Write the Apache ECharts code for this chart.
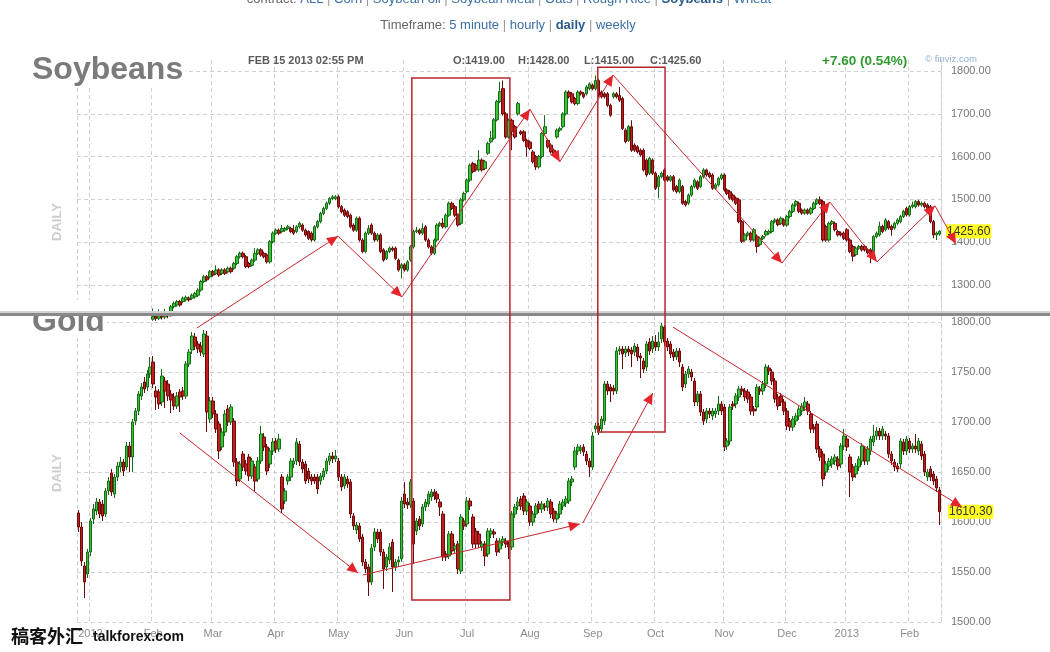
<!DOCTYPE html>
<html>
<head>
<meta charset="utf-8">
<title>Soybeans / Gold daily</title>
<script src="https://cdn.jsdelivr.net/npm/echarts@6/dist/echarts.min.js"></script>
<style>
  html, body { margin: 0; padding: 0; background: #fff; }
  #main { width: 1050px; height: 652px; }
</style>
</head>
<body>
<div id="main"></div>
<script>
// trading days per month, from the tail of Dec 2011 to mid Feb 2013
const monthNames = ['', '2012', 'Feb', 'Mar', 'Apr', 'May', 'Jun', 'Jul', 'Aug', 'Sep', 'Oct', 'Nov', 'Dec', '2013', 'Feb'];
const monthDays = [4, 21, 20, 21, 21, 22, 21, 21, 21, 21, 23, 21, 20, 21, 11];

// daily candles [open, close, low, high]
const soyCandles = [
  // Dec
  [1165,1160,1150,1172],[1160,1170,1155,1176],[1172,1168,1160,1180],[1190,1222,1186,1241],
  // Jan
  [1220,1215,1205,1228],[1215,1205,1198,1222],[1205,1198,1190,1210],[1200,1210,1195,1225],[1212,1218,1205,1236],
  [1218,1200,1195,1222],[1200,1180,1175,1205],[1182,1178,1170,1190],[1178,1190,1172,1195],[1190,1195,1185,1202],
  [1195,1192,1185,1200],[1192,1200,1188,1206],[1200,1205,1195,1212],[1205,1198,1192,1210],[1198,1205,1194,1212],
  [1205,1210,1200,1216],[1210,1206,1200,1218],[1206,1212,1202,1220],[1212,1208,1202,1218],[1208,1215,1204,1222],
  [1215,1220,1210,1226],
  // Feb
  [1220,1226,1216,1245],[1226,1222,1216,1232],[1222,1228,1218,1243],[1228,1225,1219,1235],[1225,1230,1220,1244],
  [1230,1228,1222,1238],[1228,1249,1226,1253],[1249,1257,1245,1261],[1253,1261,1249,1265],[1261,1253,1249,1265],
  [1261,1269,1257,1273],[1265,1271,1261,1275],[1269,1265,1261,1273],[1269,1276,1265,1280],[1272,1280,1268,1284],
  [1276,1288,1272,1292],[1288,1308,1284,1312],[1308,1319,1304,1323],[1319,1312,1308,1323],[1319,1331,1315,1335],
  // Mar
  [1331,1323,1319,1335],[1327,1335,1323,1346],[1335,1323,1319,1339],[1327,1335,1323,1339],[1335,1327,1323,1339],
  [1331,1339,1327,1343],[1339,1331,1327,1343],[1339,1350,1335,1354],[1350,1366,1346,1370],[1366,1374,1362,1378],
  [1374,1366,1362,1378],[1366,1343,1339,1370],[1350,1343,1339,1354],[1346,1358,1343,1362],[1358,1374,1354,1386],
  [1374,1382,1370,1386],[1382,1370,1366,1386],[1374,1366,1362,1378],[1370,1354,1350,1374],[1354,1401,1350,1405],
  [1401,1421,1397,1425],
  // Apr
  [1421,1428,1417,1432],[1428,1421,1417,1432],[1425,1432,1421,1440],[1428,1432,1424,1436],[1432,1436,1428,1440],
  [1432,1425,1421,1436],[1428,1421,1417,1440],[1425,1436,1421,1440],[1436,1444,1432,1448],[1440,1428,1424,1444],
  [1428,1417,1413,1432],[1425,1409,1405,1428],[1421,1405,1401,1425],[1405,1436,1401,1440],[1436,1448,1432,1452],
  [1448,1467,1444,1471],[1467,1479,1463,1483],[1479,1491,1475,1495],[1491,1502,1487,1506],[1502,1506,1498,1510],
  [1502,1506,1498,1510],
  // May
  [1506,1483,1479,1511],[1483,1471,1467,1487],[1475,1463,1459,1479],[1471,1460,1456,1475],[1463,1436,1432,1467],
  [1440,1428,1424,1444],[1428,1456,1424,1460],[1456,1405,1401,1460],[1405,1378,1374,1409],[1378,1421,1374,1425],
  [1421,1432,1417,1440],[1440,1421,1417,1444],[1421,1405,1401,1425],[1405,1417,1401,1421],[1417,1378,1374,1421],
  [1382,1358,1354,1386],[1362,1378,1358,1382],[1378,1386,1374,1390],[1386,1382,1378,1390],[1386,1362,1358,1390],
  [1358,1335,1331,1362],[1339,1347,1315,1351],
  // Jun
  [1347,1335,1331,1351],[1335,1354,1331,1358],[1358,1389,1354,1393],[1389,1425,1385,1429],[1425,1428,1421,1436],
  [1428,1421,1417,1432],[1421,1432,1417,1444],[1436,1405,1401,1440],[1405,1389,1385,1409],[1389,1374,1370,1393],
  [1374,1405,1370,1409],[1405,1440,1401,1444],[1440,1444,1436,1448],[1444,1436,1432,1456],[1436,1463,1432,1467],
  [1463,1491,1459,1495],[1491,1479,1475,1495],[1483,1463,1459,1487],[1463,1440,1436,1467],[1444,1499,1440,1503],
  [1499,1514,1495,1518],
  // Jul
  [1518,1545,1514,1549],[1545,1580,1541,1584],[1584,1565,1561,1588],[1580,1569,1565,1584],[1569,1592,1565,1615],
  [1592,1569,1565,1596],[1572,1588,1568,1592],[1608,1631,1604,1635],[1635,1643,1631,1660],[1643,1686,1639,1690],
  [1686,1729,1682,1733],[1729,1752,1725,1775],[1759,1700,1696,1778],[1700,1646,1642,1704],[1646,1685,1642,1689],
  [1685,1658,1615,1689],[1670,1646,1642,1674],[1700,1724,1696,1728],[1658,1654,1650,1662],[1658,1638,1634,1662],
  [1638,1623,1600,1642],
  // Aug
  [1634,1619,1615,1638],[1611,1588,1584,1615],[1600,1576,1569,1604],[1576,1600,1572,1604],[1600,1654,1596,1658],
  [1654,1670,1650,1697],[1638,1623,1619,1642],[1627,1611,1607,1631],[1615,1607,1603,1619],[1646,1662,1642,1666],
  [1662,1666,1658,1670],[1670,1700,1666,1704],[1700,1751,1696,1755],[1751,1740,1736,1755],[1747,1728,1724,1751],
  [1736,1724,1720,1740],[1724,1751,1720,1755],[1751,1747,1743,1755],[1747,1740,1736,1751],[1747,1763,1743,1767],
  [1759,1770,1755,1774],
  // Sep
  [1767,1759,1755,1771],[1759,1778,1755,1790],[1778,1743,1739,1782],[1751,1740,1736,1755],[1747,1740,1736,1751],
  [1747,1720,1716,1751],[1720,1697,1693,1724],[1740,1747,1736,1751],[1747,1740,1736,1751],[1743,1732,1728,1763],
  [1736,1666,1662,1740],[1662,1635,1631,1666],[1638,1670,1634,1674],[1670,1615,1611,1685],[1627,1615,1611,1631],
  [1623,1611,1607,1627],[1615,1604,1600,1619],[1615,1569,1565,1619],[1592,1557,1553,1596],[1561,1596,1557,1600],
  [1592,1561,1557,1596],
  // Oct
  [1561,1526,1522,1565],[1530,1553,1503,1557],[1553,1561,1549,1565],[1569,1545,1541,1573],[1553,1545,1541,1557],
  [1545,1553,1541,1557],[1553,1522,1518,1557],[1530,1518,1514,1534],[1518,1545,1514,1549],[1530,1491,1487,1534],
  [1495,1487,1483,1499],[1491,1510,1487,1514],[1510,1530,1506,1534],[1530,1545,1526,1549],[1541,1526,1522,1545],
  [1530,1553,1526,1557],[1553,1569,1549,1573],[1569,1557,1553,1572],[1561,1553,1549,1565],[1557,1526,1522,1561],
  [1526,1534,1522,1538],[1534,1549,1530,1553],[1549,1557,1545,1561],
  // Nov
  [1557,1522,1518,1561],[1522,1514,1510,1526],[1518,1503,1499,1522],[1510,1499,1495,1514],[1503,1491,1487,1507],
  [1499,1448,1444,1503],[1448,1402,1398,1452],[1405,1417,1401,1421],[1417,1421,1413,1425],[1421,1405,1401,1425],
  [1405,1429,1401,1433],[1413,1390,1375,1417],[1394,1409,1390,1413],[1409,1413,1405,1417],[1417,1425,1413,1429],
  [1421,1425,1417,1429],[1425,1448,1421,1452],[1448,1452,1444,1456],[1452,1441,1437,1456],[1444,1456,1440,1460],
  [1452,1440,1436,1456],
  // Dec
  [1440,1460,1436,1464],[1460,1472,1456,1476],[1472,1487,1468,1491],[1487,1495,1483,1499],[1491,1472,1468,1495],
  [1475,1468,1464,1479],[1468,1475,1464,1479],[1475,1468,1464,1479],[1468,1479,1464,1483],[1479,1491,1475,1495],
  [1491,1499,1487,1503],[1499,1491,1487,1507],[1495,1405,1401,1499],[1437,1405,1401,1441],[1405,1444,1401,1448],
  [1444,1448,1440,1452],[1444,1429,1425,1448],[1425,1417,1413,1429],[1421,1417,1413,1425],[1421,1409,1405,1425],
  // Jan 2013
  [1429,1405,1401,1433],[1405,1378,1374,1409],[1390,1367,1355,1394],[1371,1386,1367,1390],[1386,1390,1382,1394],
  [1390,1382,1378,1394],[1390,1382,1378,1394],[1382,1375,1371,1386],[1382,1371,1351,1386],[1378,1413,1374,1417],
  [1413,1421,1409,1425],[1417,1437,1413,1448],[1437,1425,1421,1441],[1429,1452,1425,1456],[1448,1433,1429,1452],
  [1437,1429,1415,1441],[1433,1444,1429,1448],[1444,1452,1440,1456],[1448,1460,1444,1464],[1460,1472,1456,1476],
  [1479,1464,1460,1483],
  // Feb 2013
  [1464,1483,1460,1487],[1483,1487,1479,1495],[1483,1495,1479,1499],[1495,1487,1483,1499],[1487,1491,1483,1495],
  [1491,1483,1479,1495],[1487,1479,1475,1491],[1483,1448,1444,1487],[1448,1417,1409,1452],[1417,1421,1405,1425],
  [1419,1425.6,1415,1428]
];

const goldCandles = [
  // Dec
  [1609,1595,1590,1612],[1595,1561,1556,1600],[1556,1540,1524,1560],[1548,1570,1544,1573],
  // Jan
  [1570,1601,1566,1604],[1603,1613,1598,1618],[1611,1620,1607,1624],[1620,1608,1604,1623],[1618,1606,1601,1622],
  [1608,1631,1605,1634],[1631,1641,1627,1645],[1649,1630,1626,1653],[1628,1645,1624,1648],[1645,1656,1641,1660],
  [1655,1660,1650,1665],[1660,1651,1646,1663],[1655,1676,1652,1680],[1676,1665,1650,1680],[1665,1700,1650,1703],
  [1701,1711,1697,1714],[1711,1728,1707,1731],[1726,1735,1722,1739],[1740,1733,1729,1745],[1735,1748,1731,1752],
  [1748,1755,1744,1765],
  // Feb
  [1760,1738,1734,1766],[1731,1725,1712,1736],[1730,1718,1713,1733],[1720,1746,1716,1753],[1741,1731,1714,1745],
  [1738,1726,1721,1742],[1728,1722,1709,1732],[1725,1716,1712,1729],[1716,1726,1713,1730],[1730,1725,1710,1733],
  [1731,1726,1722,1735],[1726,1758,1723,1761],[1758,1770,1755,1773],[1772,1786,1768,1790],[1785,1776,1772,1789],
  [1778,1773,1769,1781],[1776,1770,1766,1780],[1768,1788,1765,1792],[1786,1710,1690,1791],[1703,1721,1699,1725],
  // Mar
  [1721,1708,1704,1725],[1708,1693,1689,1712],[1698,1671,1663,1701],[1675,1690,1672,1694],[1690,1708,1686,1712],
  [1713,1700,1696,1717],[1700,1715,1697,1718],[1701,1660,1655,1704],[1660,1641,1636,1664],[1643,1658,1640,1661],
  [1668,1655,1651,1671],[1658,1651,1647,1662],[1665,1646,1641,1668],[1646,1661,1643,1664],[1655,1641,1630,1658],
  [1643,1661,1640,1665],[1661,1688,1658,1696],[1685,1675,1671,1689],[1675,1651,1647,1678],[1658,1671,1654,1674],
  [1671,1680,1667,1684],
  // Apr
  [1681,1673,1669,1684],[1673,1683,1670,1688],[1645,1613,1609,1648],[1621,1631,1618,1634],[1641,1645,1637,1648],
  [1645,1661,1641,1664],[1658,1661,1654,1664],[1661,1680,1657,1684],[1678,1660,1656,1681],[1660,1653,1649,1663],
  [1658,1641,1638,1661],[1651,1643,1639,1654],[1645,1641,1637,1648],[1645,1641,1638,1648],[1645,1633,1628,1648],
  [1641,1646,1637,1649],[1645,1651,1642,1654],[1651,1661,1648,1664],[1661,1666,1657,1669],[1666,1663,1659,1670],
  [1663,1666,1660,1672],
  // May
  [1661,1645,1641,1664],[1645,1635,1631,1648],[1636,1645,1633,1648],[1643,1638,1634,1646],[1640,1608,1604,1643],
  [1606,1596,1592,1609],[1592,1597,1588,1600],[1596,1583,1580,1599],[1585,1560,1556,1588],[1560,1553,1549,1563],
  [1555,1540,1526,1558],[1540,1574,1537,1578],[1575,1590,1571,1594],[1590,1583,1579,1593],[1590,1570,1566,1593],
  [1570,1553,1533,1573],[1555,1565,1551,1568],[1562,1575,1558,1579],[1580,1555,1530,1583],[1555,1560,1551,1563],
  [1560,1562,1556,1566],[1563,1621,1560,1625],
  // Jun
  [1628,1618,1614,1640],[1620,1617,1613,1624],[1617,1640,1614,1643],[1621,1578,1558,1624],[1591,1601,1587,1604],
  [1603,1596,1592,1606],[1598,1615,1595,1618],[1615,1620,1611,1623],[1618,1628,1615,1631],[1625,1630,1621,1633],
  [1630,1626,1622,1633],[1628,1623,1619,1631],[1620,1615,1606,1623],[1608,1565,1561,1611],[1568,1565,1561,1571],
  [1566,1588,1563,1591],[1588,1571,1567,1591],[1573,1576,1569,1579],[1578,1553,1548,1581],[1551,1605,1548,1608],
  [1601,1596,1592,1604],
  // Jul
  [1598,1621,1595,1625],[1621,1616,1612,1624],[1605,1578,1574,1608],[1591,1578,1574,1594],[1588,1578,1574,1591],
  [1575,1578,1571,1581],[1578,1566,1556,1581],[1568,1591,1565,1594],[1588,1591,1584,1594],[1590,1588,1584,1593],
  [1581,1570,1566,1584],[1573,1581,1569,1584],[1580,1583,1576,1586],[1581,1578,1574,1584],[1578,1575,1563,1581],
  [1575,1608,1572,1611],[1608,1615,1604,1618],[1616,1620,1612,1625],[1623,1616,1612,1626],[1626,1611,1607,1629],
  [1611,1620,1607,1623],
  // Aug
  [1616,1600,1596,1619],[1600,1608,1596,1611],[1608,1616,1604,1619],[1618,1613,1609,1621],[1613,1618,1609,1621],
  [1616,1615,1611,1619],[1615,1621,1611,1624],[1620,1608,1604,1623],[1611,1603,1600,1614],[1603,1608,1599,1611],
  [1608,1618,1604,1621],[1616,1620,1612,1623],[1619,1623,1615,1626],[1621,1641,1618,1644],[1640,1643,1636,1646],
  [1655,1671,1652,1675],[1671,1675,1667,1678],[1672,1674,1668,1677],[1675,1670,1666,1678],[1668,1661,1657,1671],
  [1661,1655,1645,1664],
  // Sep
  [1655,1686,1652,1690],[1693,1696,1689,1699],[1696,1691,1687,1699],[1693,1703,1689,1706],[1701,1738,1697,1741],
  [1738,1731,1727,1741],[1735,1731,1720,1738],[1734,1731,1727,1737],[1731,1771,1728,1775],[1771,1773,1767,1776],
  [1773,1768,1753,1776],[1769,1773,1765,1776],[1773,1770,1766,1776],[1772,1768,1755,1775],[1770,1776,1766,1779],
  [1775,1765,1761,1778],[1766,1764,1744,1769],[1761,1753,1749,1764],[1755,1778,1751,1781],[1780,1771,1767,1784],
  [1773,1781,1769,1786],
  // Oct
  [1780,1775,1771,1787],[1775,1780,1771,1790],[1783,1796,1779,1799],[1795,1780,1776,1797],[1781,1775,1771,1784],
  [1778,1768,1764,1781],[1770,1765,1761,1773],[1765,1771,1762,1774],[1771,1760,1755,1774],[1755,1735,1731,1758],
  [1738,1748,1734,1751],[1748,1753,1744,1756],[1750,1745,1741,1753],[1741,1720,1716,1744],[1720,1728,1716,1731],
  [1728,1710,1706,1731],[1710,1701,1697,1713],[1703,1711,1699,1714],[1711,1708,1704,1714],[1706,1711,1702,1714],
  [1708,1711,1704,1714],[1711,1718,1707,1726],[1718,1711,1707,1721],
  // Nov
  [1715,1675,1671,1718],[1676,1681,1672,1684],[1681,1715,1677,1718],[1718,1716,1712,1721],[1718,1726,1714,1729],
  [1725,1733,1721,1736],[1733,1731,1727,1736],[1731,1725,1721,1734],[1730,1723,1719,1733],[1725,1711,1707,1728],
  [1713,1711,1706,1716],[1715,1735,1711,1738],[1733,1731,1727,1736],[1731,1738,1727,1741],[1738,1755,1734,1758],
  [1754,1751,1747,1757],[1750,1741,1737,1753],[1741,1723,1719,1744],[1725,1716,1712,1728],[1726,1720,1716,1729],
  [1720,1711,1707,1723],
  // Dec
  [1711,1696,1692,1714],[1701,1695,1691,1704],[1695,1703,1691,1706],[1701,1706,1697,1709],[1706,1713,1702,1716],
  [1711,1716,1707,1719],[1715,1720,1711,1725],[1718,1711,1707,1721],[1708,1693,1689,1711],[1695,1693,1689,1698],
  [1698,1673,1669,1701],[1673,1665,1661,1676],[1668,1643,1636,1671],[1650,1658,1646,1661],[1656,1661,1652,1664],
  [1658,1663,1654,1666],[1661,1665,1657,1668],[1663,1656,1652,1666],[1658,1676,1654,1679],[1676,1686,1672,1693],
  // Jan 2013
  [1683,1675,1671,1686],[1665,1650,1625,1668],[1655,1645,1641,1658],[1648,1656,1644,1659],[1655,1663,1651,1666],
  [1661,1676,1657,1679],[1673,1661,1657,1676],[1661,1673,1657,1676],[1671,1683,1667,1686],[1680,1686,1676,1697],
  [1686,1691,1682,1695],[1691,1686,1682,1694],[1686,1693,1682,1696],[1688,1686,1682,1691],[1686,1668,1664,1689],
  [1668,1661,1657,1671],[1660,1655,1651,1663],[1656,1653,1650,1659],[1658,1681,1654,1684],[1680,1671,1667,1683],
  [1671,1683,1667,1686],
  // Feb 2013
  [1681,1673,1669,1684],[1673,1676,1669,1679],[1676,1673,1669,1688],[1671,1681,1667,1684],[1678,1666,1662,1681],
  [1668,1650,1646,1671],[1645,1650,1641,1653],[1653,1645,1641,1656],[1648,1641,1637,1651],[1643,1634,1630,1646],
  [1632,1610.3,1597,1635]
];

// hand drawn trend arrows, [panel, day index, price] -> [panel, day index, price]
const arrows = [
  [['gold', 39.6, 1794], ['soy', 86.8, 1414]],
  [['soy', 86.8, 1414], ['soy', 108.2, 1272]],
  [['soy', 108.2, 1272], ['soy', 151, 1711]],
  [['soy', 151, 1711], ['soy', 161, 1588]],
  [['soy', 161, 1588], ['soy', 178.8, 1791]],
  [['soy', 178.8, 1791], ['soy', 235.3, 1351]],
  [['soy', 235.3, 1351], ['soy', 251.3, 1494]],
  [['soy', 251.3, 1494], ['soy', 267.1, 1354]],
  [['soy', 267.1, 1354], ['soy', 286.5, 1485]],
  [['soy', 286.5, 1485], ['soy', 293.5, 1396]],
  [['gold', 33.9, 1689], ['gold', 93.5, 1549]],
  [['gold', 95.2, 1547], ['gold', 167.7, 1598]],
  [['gold', 168.7, 1599], ['gold', 192.1, 1729]],
  [['gold', 198.8, 1795], ['gold', 295.5, 1615]]
];
// boxes: [from day, to day, top price on soybeans, bottom price on gold]
const boxes = [
  [111.5, 144.3, 1784, 1522],
  [173.7, 196.2, 1809, 1690]
];
const soyLast = 1425.6;
const goldLast = 1610.3;

const days = [];
const isStart = [];
const labelAt = [];
monthNames.forEach((m, k) => {
  for (let d = 0; d < monthDays[k]; d++) {
    days.push(k + '-' + d);
    isStart.push(d === 0);
    labelAt.push(d === 0 ? m : '');
  }
});

const FONT = '"Liberation Sans", Arial, sans-serif';
const gridLine = { color: '#d0d0d0', type: [4, 3], width: 1 };

function xAxisFor(gridIndex, showLabels) {
  return {
    type: 'category',
    gridIndex: gridIndex,
    data: days,
    boundaryGap: true,
    axisLine: { show: false },
    axisTick: { show: false },
    axisLabel: {
      show: showLabels,
      interval: (i) => isStart[i] && i > 0,
      formatter: (v, i) => labelAt[i],
      color: '#8c8c8c',
      fontSize: 11,
      fontFamily: FONT,
      margin: 6
    },
    splitLine: { show: true, interval: (i) => isStart[i], lineStyle: gridLine }
  };
}

const candleStyle = {
  color: '#3cc236',
  color0: '#c21e1e',
  borderColor: '#176a17',
  borderColor0: '#6a0b0b',
  borderWidth: 1
};

const chart = echarts.init(document.getElementById('main'), null, { renderer: 'canvas' });

chart.setOption({
  animation: false,
  backgroundColor: '#fff',
  grid: [
    { left: 77, right: 109, top: 60, height: 254, outerBoundsMode: 'none' },
    { left: 77, right: 109, top: 316, height: 306, outerBoundsMode: 'none' }
  ],
  xAxis: [xAxisFor(0, false), xAxisFor(1, true)],
  yAxis: [
    {
      type: 'value', gridIndex: 0, position: 'right',
      min: 1232, max: 1826, splitNumber: 6,
      axisLine: { show: true, lineStyle: gridLine },
      axisTick: { show: false },
      axisLabel: {
        showMinLabel: false, showMaxLabel: false,
        formatter: (v) => (v % 100 === 0 ? v.toFixed(2) : ''),
        color: '#777', fontSize: 11, fontFamily: FONT, margin: 10
      },
      splitLine: { show: true, showMinLine: false, showMaxLine: false, lineStyle: gridLine }
    },
    {
      type: 'value', gridIndex: 1, position: 'right',
      min: 1500, max: 1806, interval: 50,
      axisLine: { show: true, lineStyle: gridLine },
      axisTick: { show: false },
      axisLabel: {
        showMaxLabel: false,
        formatter: (v) => v.toFixed(2),
        color: '#777', fontSize: 11, fontFamily: FONT, margin: 10
      },
      splitLine: { show: true, showMaxLine: false, lineStyle: gridLine }
    }
  ],
  series: [
    { name: 'Soybeans', type: 'candlestick', xAxisIndex: 0, yAxisIndex: 0, data: soyCandles, barWidth: 3, clip: true, itemStyle: candleStyle },
    { name: 'Gold', type: 'candlestick', xAxisIndex: 1, yAxisIndex: 1, data: goldCandles, barWidth: 3, clip: true, itemStyle: candleStyle }
  ]
});

// day index (may be fractional) + price -> pixel
function toPx(panel, i, price) {
  const g = panel === 'soy' ? 0 : 1;
  const a = chart.convertToPixel({ gridIndex: g }, [0, price]);
  const b = chart.convertToPixel({ gridIndex: g }, [days.length - 1, price]);
  return [a[0] + (b[0] - a[0]) * i / (days.length - 1), a[1]];
}

function txt(x, y, text, opt) {
  return {
    type: 'text', x: x, y: y, z: opt.z || 60,
    rotation: opt.rotation || 0,
    style: Object.assign({
      text: text, fontFamily: FONT, fontSize: 11, fill: '#555',
      align: 'left', textAlign: 'left', verticalAlign: 'middle', textVerticalAlign: 'middle'
    }, opt.style || {})
  };
}

const headRich = {
  g: { fill: '#666', fontSize: 13, fontFamily: FONT },
  b: { fill: '#3b6ea5', fontSize: 13, fontFamily: FONT },
  k: { fill: '#2b5b8c', fontSize: 13, fontWeight: 'bold', fontFamily: FONT },
  s: { fill: '#999', fontSize: 13, fontFamily: FONT }
};

const els = [];

// page header
els.push(txt(509, -1, '{g|contract:} {b|ALL} {s||} {b|Corn} {s||} {b|Soybean oil} {s||} {b|Soybean Meal} {s||} {b|Oats} {s||} {b|Rough Rice} {s||} {k|Soybeans} {s||} {b|Wheat}', {
  style: { align: 'center', textAlign: 'center', fontSize: 13, rich: headRich }
}));
els.push(txt(508, 25, '{g|Timeframe:} {b|5 minute} {s||} {b|hourly} {s||} {k|daily} {s||} {b|weekly}', {
  style: { align: 'center', textAlign: 'center', fontSize: 13, rich: headRich }
}));

// soybeans info row
const infoStyle = { fontWeight: 'bold', fontSize: 11, fill: '#5a5a5a' };
els.push(txt(248, 61, 'FEB 15 2013 02:55 PM', { style: infoStyle }));
els.push(txt(453, 61, 'O:1419.00', { style: infoStyle }));
els.push(txt(518, 61, 'H:1428.00', { style: infoStyle }));
els.push(txt(584, 61, 'L:1415.00', { style: infoStyle }));
els.push(txt(650, 61, 'C:1425.60', { style: infoStyle }));
els.push(txt(822, 61, '+7.60 (0.54%)', { style: { fontWeight: 'bold', fontSize: 13.5, fill: '#2f9a2f' } }));
els.push(txt(925, 59, '\u00a9 finviz.com', { style: { fontSize: 9.5, fill: '#8fb0cf' } }));

// panel titles
els.push(txt(30, 70, 'Soybeans', { z: 70, style: { fontWeight: 'bold', fontSize: 32, fill: '#7b7b7b', backgroundColor: '#fff', padding: [0, 2, 0, 2] } }));
els.push(txt(30, 322, 'Gold', { z: 70, style: { fontWeight: 'bold', fontSize: 32, fill: '#7b7b7b', backgroundColor: '#fff', padding: [0, 2, 0, 2] } }));
els.push({ type: 'rect', z: 71, shape: { x: 26, y: 300, width: 90, height: 13 }, style: { fill: '#fff' } });
els.push(txt(57, 222, 'DAILY', { rotation: Math.PI / 2, style: { align: 'center', textAlign: 'center', fontWeight: 'bold', fontSize: 13, fill: '#cdcdcd' } }));
els.push(txt(57, 473, 'DAILY', { rotation: Math.PI / 2, style: { align: 'center', textAlign: 'center', fontWeight: 'bold', fontSize: 13, fill: '#cdcdcd' } }));

// separator between the two pasted charts
els.push({ type: 'rect', z: 80, shape: { x: 0, y: 311, width: 1050, height: 2 }, style: { fill: '#d4d4d4' } });
els.push({ type: 'rect', z: 80, shape: { x: 0, y: 313, width: 1050, height: 3 }, style: { fill: '#8a8a8a' } });

// annotation boxes
boxes.forEach((b) => {
  const p = toPx('soy', b[0], b[2]);
  const q = toPx('gold', b[1], b[3]);
  els.push({ type: 'rect', z: 90, shape: { x: p[0], y: p[1], width: q[0] - p[0], height: q[1] - p[1] },
    style: { fill: 'none', stroke: '#b8242a', lineWidth: 1.5 } });
});

// annotation arrows
arrows.forEach((a) => {
  const p = toPx(a[0][0], a[0][1], a[0][2]);
  const q = toPx(a[1][0], a[1][1], a[1][2]);
  const dx = q[0] - p[0], dy = q[1] - p[1];
  const len = Math.sqrt(dx * dx + dy * dy);
  const ux = dx / len, uy = dy / len;
  const bx = q[0] - ux * 11, by = q[1] - uy * 11;
  els.push({ type: 'line', z: 91, shape: { x1: p[0], y1: p[1], x2: q[0], y2: q[1] },
    style: { stroke: '#c4262c', lineWidth: 1 } });
  els.push({ type: 'polygon', z: 92, shape: { points: [[q[0], q[1]], [bx - uy * 5, by + ux * 5], [bx + uy * 5, by - ux * 5]] },
    style: { fill: '#e5232a' } });
});

// last price tags
const sy = toPx('soy', 0, soyLast)[1];
const gy = toPx('gold', 0, goldLast)[1];
els.push(txt(946, sy, soyLast.toFixed(2), { z: 85, style: { fontSize: 12, fill: '#333', backgroundColor: '#ffff22', padding: [1, 1, 1, 1] } }));
els.push(txt(948, gy, goldLast.toFixed(2), { z: 85, style: { fontSize: 12, fill: '#333', backgroundColor: '#ffff22', padding: [1, 1, 1, 1] } }));

// footer text and watermark
els.push(txt(30, 652, 'GOLD', { style: { fontWeight: 'bold', fontSize: 13, fill: '#9a9a9a', verticalAlign: 'top', textVerticalAlign: 'top' } }));
els.push(txt(11, 636, '稿客外汇', { z: 95, style: { fontFamily: '"Noto Sans CJK SC", sans-serif', fontWeight: 'bold', fontSize: 18, fill: '#111' } }));
els.push(txt(93, 637, 'talkforex.com', { z: 95, style: { fontWeight: 'bold', fontSize: 14, fill: '#111' } }));

chart.setOption({ graphic: { elements: els } });

window.addEventListener('resize', () => chart.resize());
</script>
</body>
</html>
